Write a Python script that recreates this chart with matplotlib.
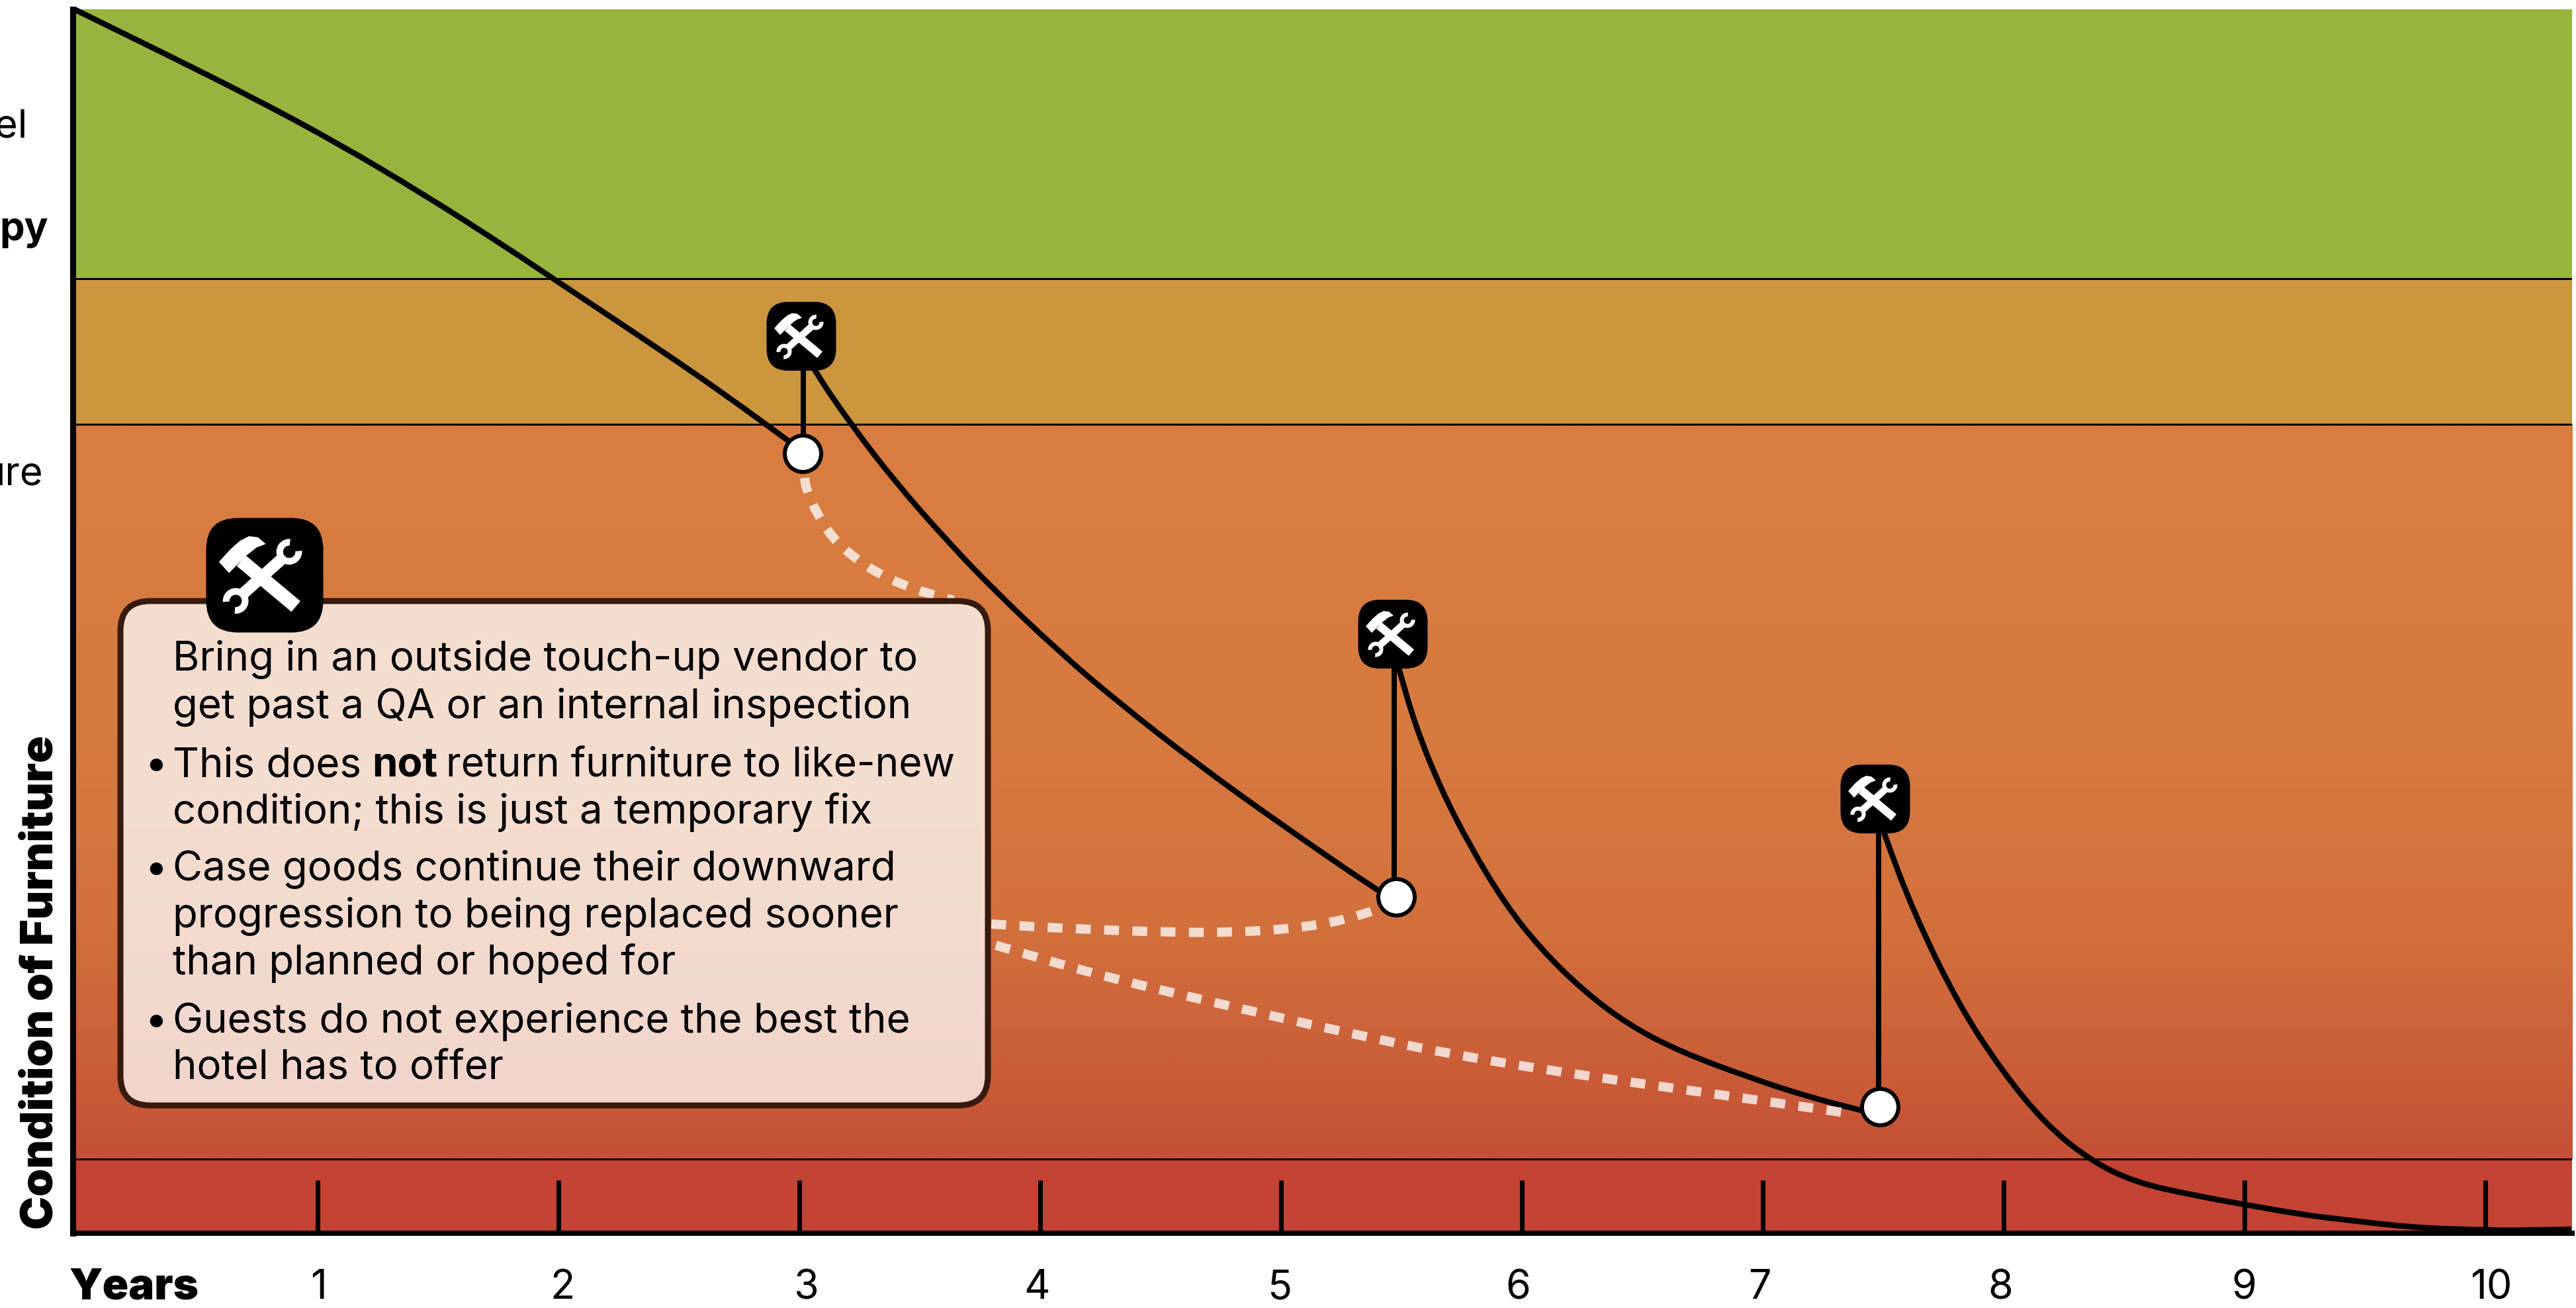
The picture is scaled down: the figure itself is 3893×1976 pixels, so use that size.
import matplotlib
matplotlib.use('Agg')
import matplotlib.pyplot as plt
from matplotlib.colors import LinearSegmentedColormap
from matplotlib.patches import FancyBboxPatch, PathPatch, Wedge, Polygon
from matplotlib.path import Path
import numpy as np

FONT = 'Inter'
W, H = 3893, 1976

# years on x, condition score on y (the chart has no y numbers, scale is arbitrary)
curve1_x = [-0.01, 0.382, 0.734, 1.082, 1.434, 1.786, 1.978, 2.429, 2.703, 2.951, 3.014]
curve1_y = [184.9, 177.9, 171.5, 164.7, 157.1, 148.9, 144.2, 133.3, 126.4, 119.8, 118.1]
curve2_x = [3.04, 3.055, 3.214, 3.398, 3.618, 3.819, 4.071, 4.324, 4.659, 4.995, 5.398, 5.478]
curve2_y = [132.5, 130.7, 122.2, 113.5, 104.4, 96.8, 88.1, 80.2, 70.7, 61.9, 51.8, 50.1]
curve3_x = [5.470, 5.489, 5.560, 5.665, 5.783, 5.929, 6.077, 6.253, 6.445, 6.665, 6.962, 7.181, 7.401, 7.486]
curve3_y = [87.8, 85.3, 76.4, 67.0, 58.6, 49.8, 43.0, 36.7, 31.4, 27.3, 23.3, 20.7, 18.6, 17.9]
curve4_x = [7.489, 7.503, 7.626, 7.810, 7.995, 8.176, 8.360, 8.544, 8.791, 9.036, 9.242, 9.398, 9.712, 9.997, 10.129, 10.357]
curve4_y = [62.3, 60.4, 48.5, 34.7, 24.4, 16.4, 11.0, 7.7, 5.7, 4.1, 2.8, 2.1, 0.8, 0.5, 0.4, 0.6]

dots1_x = [3.022, 3.027, 3.074, 3.137, 3.225, 3.321, 3.426, 3.536, 3.640]
dots1_y = [114.1, 112.6, 108.6, 105.1, 102.1, 99.8, 98.0, 96.6, 95.6]
dots2_x = [3.797, 4.115, 4.582, 4.827, 5.047, 5.269, 5.390]
dots2_y = [46.7, 46.0, 45.4, 45.5, 46.0, 47.3, 48.8]
dots3_x = [3.816, 4.239, 4.728, 5.269, 5.709, 6.201, 6.692, 7.379]
dots3_y = [43.5, 39.0, 34.8, 30.3, 27.0, 24.1, 21.6, 18.0]

repair_x = [3.014, 5.478, 7.486]
repair_y = [117.8, 50.8, 19.1]
stem_x = [3.016, 5.470, 7.481]
stem_top = [135.5, 90.5, 65.6]

band_edges = [184.9, 144.2, 122.2, 11.2, 0]
band_green = '#97B43F'
band_amber = '#CC963E'
band_red = '#C44335'
grad_vals = [122.2, 76, 46, 26, 11.2]
grad_cols = ['#D97D41', '#D77A40', '#D2703D', '#CB5F39', '#C45035']

years = list(range(1, 11))
year_label_px = [482, 850, 1218, 1567, 1934, 2294, 2659, 3023, 3391, 3765]

box_lines = [
    'Bring in an outside touch-up vendor to',
    'get past a QA or an internal inspection',
    None,
    'condition; this is just a temporary fix',
    'Case goods continue their downward',
    'progression to being replaced sooner',
    'than planned or hoped for',
    'Guests do not experience the best the',
    'hotel has to offer',
]
box_baselines = [1013, 1085, 1173, 1244, 1330, 1401, 1472, 1560, 1630]
bullet_lines = [2, 4, 7]

icon_px = [(1211, 508), (2105, 958), (2834, 1207)]


def px(p):
    return p * 72 / 100


def smooth(ax, xs, ys, **kw):
    # quadratic curve through the midpoints of the read points
    pts = np.column_stack([xs, ys])
    mids = (pts[:-1] + pts[1:]) / 2
    verts = [pts[0], mids[0]]
    codes = [Path.MOVETO, Path.LINETO]
    for i in range(1, len(pts) - 1):
        end = mids[i] if i < len(pts) - 2 else pts[-1]
        verts += [pts[i], end]
        codes += [Path.CURVE3, Path.CURVE3]
    ax.add_patch(PathPatch(Path(verts, codes), fill=False, **kw))


def rounded(ax, cx, cy, w, h, r, **kw):
    box = FancyBboxPatch((cx - w / 2 + r, cy - h / 2 + r), w - 2 * r, h - 2 * r,
                         boxstyle=f'round,pad={r},rounding_size={r}', **kw)
    ax.add_patch(box)


def tools_icon(ax, cx, cy, w, h, r):
    rounded(ax, cx, cy, w, h, r, fc='black', ec='none', zorder=5)
    s = w / 105
    head = [(-41, -12), (-32, -2), (-23, -11), (-16, -18), (-7, -25), (1, -28),
            (-6, -34), (-14, -35), (-22, -31), (-31, -23)]
    ax.add_patch(Polygon([(cx + a * s, cy + b * s) for a, b in head], fc='white', ec='none', zorder=6))
    ax.plot([cx - 21 * s, cx + 28 * s], [cy - 13 * s, cy + 28 * s], color='white',
            lw=px(12.5 * s), solid_capstyle='butt', zorder=6)
    ax.plot([cx + 18 * s, cx - 21 * s], [cy - 17 * s, cy + 18 * s], color='white',
            lw=px(10.5 * s), solid_capstyle='butt', zorder=6)
    ax.add_patch(Wedge((cx + 22 * s, cy - 21 * s), 11.5 * s, -5, 275, width=6 * s, fc='white', ec='none', zorder=6))
    ax.add_patch(Wedge((cx - 26 * s, cy + 23 * s), 11.5 * s, 175, 455, width=6 * s, fc='white', ec='none', zorder=6))


fig = plt.figure(figsize=(W / 100, H / 100), dpi=100, facecolor='white')
ax = fig.add_axes([110 / W, (H - 1863) / H, (3887 - 110) / W, (1863 - 14) / H])
xmin, xmax = -0.0165, 10.36
ax.axhspan(band_edges[1], band_edges[0], color=band_green, lw=0, zorder=0)
ax.axhspan(band_edges[2], band_edges[1], color=band_amber, lw=0, zorder=0)
ax.axhspan(band_edges[4], band_edges[3], color=band_red, lw=0, zorder=0)
stops = [(grad_vals[0] - v) / (grad_vals[0] - grad_vals[-1]) for v in grad_vals]
cmap = LinearSegmentedColormap.from_list('orange', list(zip(stops, grad_cols)))
ax.imshow(np.linspace(0, 1, 400).reshape(-1, 1), cmap=cmap, aspect='auto', zorder=0,
          extent=[xmin, xmax, band_edges[3], band_edges[2]])
for v in band_edges[1:4]:
    ax.axhline(v, color='black', lw=px(3), zorder=1)
ax.set_xlim(xmin, xmax)
ax.set_ylim(0, band_edges[0])

ax.set_xticks(years)
ax.set_yticks([])
ax.tick_params(axis='x', direction='in', length=px(80), width=px(7), color='black', labelbottom=False)
for side in ['top', 'right']:
    ax.spines[side].set_visible(False)
ax.spines['left'].set_linewidth(px(9))
ax.spines['bottom'].set_linewidth(px(8))

for xs, ys in [(curve1_x, curve1_y), (curve2_x, curve2_y), (curve3_x, curve3_y), (curve4_x, curve4_y)]:
    smooth(ax, xs, ys, ec='black', lw=px(8.5), capstyle='butt', zorder=3, clip_on=False)
for xs, ys in [(dots1_x, dots1_y), (dots2_x, dots2_y), (dots3_x, dots3_y)]:
    smooth(ax, xs, ys, ec=(1, 1, 1, 0.76), lw=px(14), capstyle='butt', linestyle=(0, (1.6, 1.45)), zorder=4)
for x, y0, y1 in zip(stem_x, repair_y, stem_top):
    ax.plot([x, x], [y0, y1], color='black', lw=px(8), solid_capstyle='butt', zorder=3)
ax.plot(repair_x, repair_y, ls='none', marker='o', ms=px(55), mfc='white', mec='black', mew=px(6), zorder=5)

# overlay in image pixels for box, icons and text
ov = fig.add_axes([0, 0, 1, 1], facecolor='none')
ov.set_xlim(0, W)
ov.set_ylim(H, 0)
ov.axis('off')

for cx, cy in icon_px:
    tools_icon(ov, cx, cy, 105, 104, 33)

rounded(ov, 837.5, 1289, 1311, 762, 45, fc=(1, 1, 1, 0.75), ec='#361A0E', lw=px(9), zorder=4)
tools_icon(ov, 400, 869, 177, 173, 48)

body = dict(family=FONT, fontsize=44.5, color='black', va='baseline', zorder=7)
for line, base in zip(box_lines, box_baselines):
    if line:
        ov.text(261, base, line, **body)
ov.text(261, box_baselines[2], 'This does', **body)
ov.text(562, box_baselines[2], 'not', fontweight='bold', **body)
ov.text(674, box_baselines[2], 'return furniture to like-new', fontsize=43.5,
        **{k: v for k, v in body.items() if k != 'fontsize'})
for i in bullet_lines:
    ov.text(236, box_baselines[i], '\u2022', ha='center', **body)

for lab, x in zip(years, year_label_px):
    ov.text(x, 1962, str(lab), family=FONT, fontsize=44, ha='center', va='baseline')
ov.text(105, 1962, 'Years', family=FONT, fontsize=47, fontweight=900, ha='left', va='baseline')
ov.text(80, 1857, 'Condition of Furniture', family=FONT, fontsize=48.5, fontweight=900,
        rotation=90, rotation_mode='anchor', ha='left', va='baseline')

ov.text(41, 207, 'el', family=FONT, fontsize=43, ha='right', va='baseline')
ov.text(73, 363, 'py', family=FONT, fontsize=43, fontweight='bold', ha='right', va='baseline')
ov.text(65, 732, 'ure', family=FONT, fontsize=43, ha='right', va='baseline')

fig.savefig('out.png', dpi=100)
